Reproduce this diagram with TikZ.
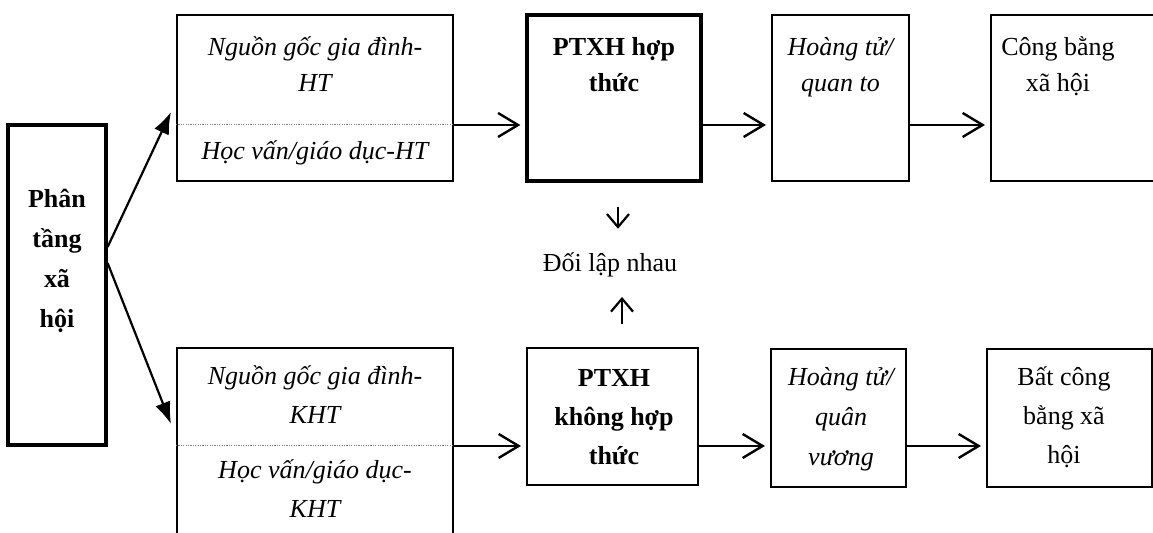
\documentclass[tikz,border=0pt]{standalone}
\usepackage{fontspec}
\setmainfont{Liberation Serif}
\usetikzlibrary{arrows.meta}

\tikzset{
  box/.style={rectangle, draw, line width=1pt, inner sep=0pt},
  thickbox/.style={box, line width=1.6pt},
  txt/.style={align=center, inner sep=0pt, anchor=base, font=\fontsize{13pt}{19.5pt}\selectfont},
  itxt/.style={txt, font=\fontsize{13pt}{19.5pt}\selectfont\itshape},
  btxt/.style={txt, font=\fontsize{13pt}{19.5pt}\selectfont\bfseries},
  toptxt/.style={txt, font=\fontsize{13pt}{18pt}\selectfont},
  topitxt/.style={txt, font=\fontsize{13pt}{18pt}\selectfont\itshape},
  topbtxt/.style={txt, font=\fontsize{13pt}{18pt}\selectfont\bfseries},
  split/.style={line width=0.5pt, gray, dash pattern=on 0.6pt off 0.6pt},
  flow/.style={line width=1.2pt, shorten >=2.5pt, -{Straight Barb[length=10pt, width=12pt]}},
  meet/.style={line width=1.1pt, -{Straight Barb[length=6.5pt, width=11pt]}},
  branch/.style={line width=1.1pt, -{Latex[length=11pt, width=8pt]}}
}

\begin{document}
\begin{tikzpicture}[x=0.5pt, y=-0.5pt]
\useasboundingbox (0,0) rectangle (1153,533);
\clip (0,0) rectangle (1153,533);
% Levels of the split lines in the source boxes
\coordinate (div_ht) at (0,125);
\coordinate (div_kht) at (0,446);
% Social stratification (text nodes sit on the baseline of their last line)
\node[thickbox, minimum width=49pt, minimum height=160pt] (strat) at (57,285) {};
\node[btxt, font=\fontsize{13pt}{20pt}\selectfont\bfseries] (strat_txt) at (57,328) {Phân\\tầng\\xã\\hội};
% Sources - HT
\node[box, minimum width=138pt, minimum height=83pt] (src_ht) at (315,98) {};
\node[topitxt] (family_ht) at (315,92) {Nguồn gốc gia đình-\\HT};
\node[itxt] (school_ht) at (315,160) {Học vấn/giáo dục-HT};
% PTXH hop thuc
\node[thickbox, minimum width=87pt, minimum height=83pt] (ptxh_ht) at (614,98) {};
\node[topbtxt] (ptxh_ht_txt) at (614,92) {PTXH hợp\\thức};
% Prince / high official
\node[box, minimum width=68.5pt, minimum height=83pt] (prince_ht) at (840.5,98) {};
\node[topitxt] (prince_ht_txt) at (840.5,92) {Hoàng tử/\\quan to};
% Social fairness
\node[box, minimum width=92pt, minimum height=83pt] (fair) at (1083,98) {};
\node[toptxt] (fair_txt) at (1058,92) {Công bằng\\xã hội};
% Opposed
\node[txt] (oppose) at (610,272) {Đối lập nhau};
% Sources - KHT
\node[box, minimum width=138pt, minimum height=106pt] (src_kht) at (315,454) {};
\node[itxt] (family_kht) at (315,424) {Nguồn gốc gia đình-\\KHT};
\node[itxt] (school_kht) at (315,518) {Học vấn/giáo dục-\\KHT};
% PTXH khong hop thuc
\node[box, minimum width=85.5pt, minimum height=68.5pt] (ptxh_kht) at (612.5,416.5) {};
\node[btxt] (ptxh_kht_txt) at (614,465) {PTXH\\không hợp\\thức};
% Prince / king
\node[box, minimum width=67.5pt, minimum height=69pt] (prince_kht) at (838.5,418) {};
\node[itxt, font=\fontsize{13pt}{20pt}\selectfont\itshape] (prince_kht_txt) at (841,466) {Hoàng tử/\\quân\\vương};
% Social unfairness
\node[box, minimum width=82.5pt, minimum height=69pt] (unfair) at (1069.5,418) {};
\node[txt] (unfair_txt) at (1064,464) {Bất công\\bằng xã\\hội};
% Split lines
\draw[split] (src_ht.west |- div_ht) -- (src_ht.east |- div_ht);
\draw[split] (src_kht.west |- div_kht) -- (src_kht.east |- div_kht);
% Draw the arrows
\draw[branch] ([yshift=19pt]strat.east) -- ([xshift=-2.5pt,yshift=-49pt]src_ht.north west);
\draw[branch] ([yshift=11pt]strat.east) -- ([xshift=-2.5pt,yshift=-38.5pt]src_kht.north west);
\draw[flow] (src_ht.east |- div_ht) -- (ptxh_ht.west |- div_ht);
\draw[flow] (ptxh_ht.east |- div_ht) -- (prince_ht.west |- div_ht);
\draw[flow] (prince_ht.east |- div_ht) -- (fair.west |- div_ht);
\draw[flow] (src_kht.east |- div_kht) -- (ptxh_kht.west |- div_kht);
\draw[flow] (ptxh_kht.east |- div_kht) -- (prince_kht.west |- div_kht);
\draw[flow] (prince_kht.east |- div_kht) -- (unfair.west |- div_kht);
\draw[meet] ([xshift=2pt,yshift=-12pt]ptxh_ht.south) -- ([xshift=4pt,yshift=12pt]oppose.north);
\draw[meet] ([xshift=4.75pt,yshift=11.5pt]ptxh_kht.north) -- ([xshift=6pt,yshift=-9.5pt]oppose.south);
\end{tikzpicture}
\end{document}
